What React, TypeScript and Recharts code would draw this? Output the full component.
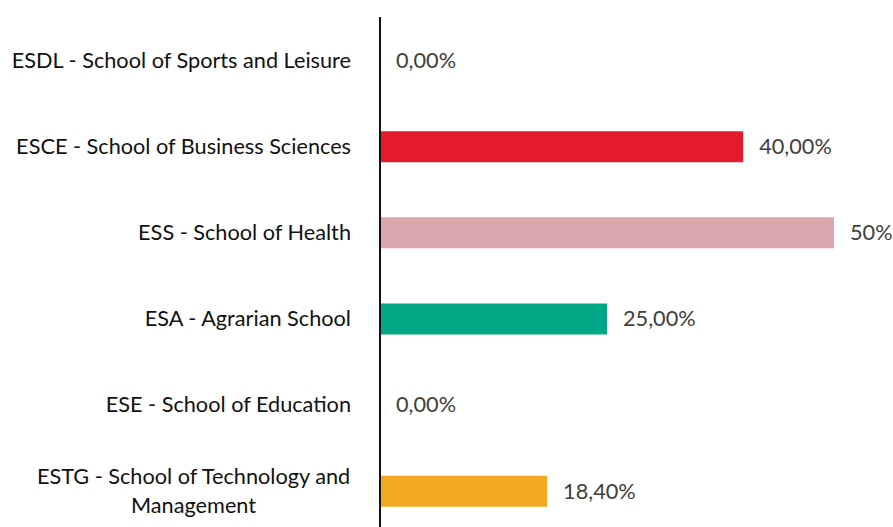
import React from "react";
import { ComposedChart, Bar, Scatter, XAxis, YAxis, Cell } from "recharts";

const categories = [
  "ESDL - School of Sports and Leisure",
  "ESCE - School of Business Sciences",
  "ESS - School of Health",
  "ESA - Agrarian School",
  "ESE - School of Education",
  "ESTG - School of Technology and|Management",
];
const values = [0, 40, 50, 25, 0, 18.4];
const valueLabels = ["0,00%", "40,00%", "50%", "25,00%", "0,00%", "18,40%"];
const colors = ["#E41B2C", "#E41B2C", "#DBA6AC", "#00A886", "#F2A81F", "#F2A81F"];

const data = categories.map((c, i) => ({
  name: c,
  value: values[i],
  label: valueLabels[i],
  color: colors[i],
}));

const FONT = "Lato, 'Open Sans', sans-serif";
const FONT_SIZE = 21.7;

let ctx: CanvasRenderingContext2D | null = null;
function measure(t: string): number {
  if (!ctx) {
    const c = document.createElement("canvas");
    ctx = c.getContext("2d");
  }
  if (!ctx) return t.length * 10;
  ctx.font = `${FONT_SIZE}px Lato`;
  return ctx.measureText(t).width;
}

const YTick = (props: any) => {
  const { x, y, payload } = props;
  const lines: string[] = String(payload.value).split("|");
  const right = x - 21;
  if (lines.length === 1) {
    return (
      <text x={right} y={y} dy="0.35em" textAnchor="end" fontFamily={FONT} fontSize={FONT_SIZE} fill="#111">
        {lines[0]}
      </text>
    );
  }
  const maxW = Math.max(...lines.map(measure));
  const cx = right - maxW / 2;
  const lh = 29;
  const start = y - ((lines.length - 1) * lh) / 2;
  return (
    <text textAnchor="middle" fontFamily={FONT} fontSize={FONT_SIZE} fill="#111">
      {lines.map((l, i) => (
        <tspan key={i} x={cx} y={start + i * lh} dy="0.35em">
          {l}
        </tspan>
      ))}
    </text>
  );
};

const ValueLabel = (props: any) => {
  const { cx, cy, payload } = props;
  return (
    <text x={cx + 16} y={cy} dy="0.35em" textAnchor="start" fontFamily={FONT} fontSize={FONT_SIZE} fill="#404040">
      {payload.label}
    </text>
  );
};

export default function App() {
  return (
    <div style={{ position: "absolute", left: 0, top: 0, width: 893, height: 527, overflow: "hidden", background: "#fff" }}>
      <ComposedChart
        width={893}
        height={560}
        data={data}
        layout="vertical"
        margin={{ top: 17, right: 59, bottom: 26, left: 0 }}
      >
        <XAxis type="number" dataKey="value" domain={[0, 50]} hide />
        <YAxis
          type="category"
          dataKey="name"
          width={380}
          axisLine={{ stroke: "#111", strokeWidth: 2 }}
          tickLine={false}
          tick={<YTick />}
          interval={0}
        />
        <Bar dataKey="value" barSize={31} isAnimationActive={false}>
          {data.map((d, i) => (
            <Cell key={i} fill={d.color} />
          ))}
        </Bar>
        <Scatter dataKey="value" shape={<ValueLabel />} isAnimationActive={false} />
      </ComposedChart>
    </div>
  );
}
